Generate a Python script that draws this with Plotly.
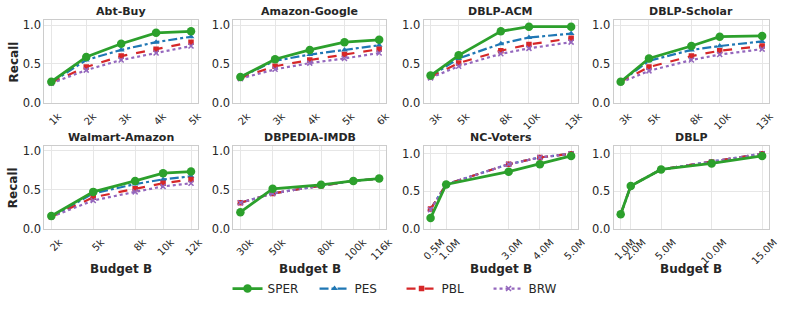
import plotly.graph_objects as go

# ---------------- data ----------------
titles = ["Abt-Buy", "Amazon-Google", "DBLP-ACM", "DBLP-Scholar",
          "Walmart-Amazon", "DBPEDIA-IMDB", "NC-Voters", "DBLP"]

budgets = [
    [1000, 2000, 3000, 4000, 5000],
    [2000, 3000, 4000, 5000, 6000],
    [3000, 5000, 8000, 10000, 13000],
    [3000, 5000, 8000, 10000, 13000],
    [2000, 5000, 8000, 10000, 12000],
    [30000, 50000, 80000, 100000, 116000],
    [500000, 1000000, 3000000, 4000000, 5000000],
    [1000000, 2000000, 5000000, 10000000, 15000000],
]
tick_labels = [
    ["1k", "2k", "3k", "4k", "5k"],
    ["2k", "3k", "4k", "5k", "6k"],
    ["3k", "5k", "8k", "10k", "13k"],
    ["3k", "5k", "8k", "10k", "13k"],
    ["2k", "5k", "8k", "10k", "12k"],
    ["30k", "50k", "80k", "100k", "116k"],
    ["0.5M", "1.0M", "3.0M", "4.0M", "5.0M"],
    ["1.0M", "2.0M", "5.0M", "10.0M", "15.0M"],
]

sper = [
    [0.27, 0.59, 0.76, 0.90, 0.92],
    [0.33, 0.56, 0.68, 0.78, 0.81],
    [0.35, 0.61, 0.92, 0.98, 0.98],
    [0.27, 0.57, 0.73, 0.85, 0.86],
    [0.16, 0.47, 0.61, 0.71, 0.73],
    [0.21, 0.51, 0.56, 0.61, 0.64],
    [0.14, 0.59, 0.76, 0.86, 0.97],
    [0.19, 0.57, 0.79, 0.87, 0.97],
]
pes = [
    [0.26, 0.55, 0.68, 0.78, 0.85],
    [0.33, 0.54, 0.62, 0.68, 0.74],
    [0.34, 0.57, 0.76, 0.84, 0.89],
    [0.27, 0.54, 0.68, 0.73, 0.79],
    [0.15, 0.45, 0.57, 0.63, 0.67],
    [0.33, 0.45, 0.55, 0.61, 0.64],
    [0.26, 0.59, 0.86, 0.95, 1.00],
    [0.19, 0.57, 0.79, 0.89, 1.00],
]
pbl = [
    [0.26, 0.46, 0.60, 0.69, 0.78],
    [0.32, 0.47, 0.55, 0.62, 0.69],
    [0.33, 0.51, 0.67, 0.75, 0.83],
    [0.27, 0.46, 0.60, 0.67, 0.73],
    [0.15, 0.40, 0.51, 0.58, 0.63],
    [0.33, 0.45, 0.55, 0.61, 0.64],
    [0.26, 0.59, 0.86, 0.95, 1.00],
    [0.19, 0.57, 0.79, 0.89, 1.00],
]
brw = [
    [0.25, 0.42, 0.55, 0.64, 0.73],
    [0.31, 0.43, 0.51, 0.57, 0.64],
    [0.32, 0.47, 0.63, 0.70, 0.78],
    [0.26, 0.41, 0.55, 0.62, 0.69],
    [0.15, 0.36, 0.47, 0.54, 0.58],
    [0.33, 0.45, 0.55, 0.61, 0.64],
    [0.25, 0.59, 0.86, 0.95, 1.00],
    [0.19, 0.57, 0.79, 0.89, 1.00],
]
y_tops = [1.06, 1.06, 1.06, 1.06, 1.055, 1.055, 1.1, 1.1]

series = [
    # name, data, color, dash, symbol, width, msize, rank
    ("PES", pes, "#1f77b4", "dashdot", "triangle-up", 2.2, 6, 2),
    ("PBL", pbl, "#d62728", "dash", "square", 2.2, 5.5, 3),
    ("BRW", brw, "#9467bd", "dot", "x-thin-open", 2.2, 5, 4),
    ("SPER", sper, "#2ca02c", "solid", "circle", 2.8, 8.5, 1),
]

W, H = 793, 312
cols = [(43, 199), (235, 390), (428, 585), (621, 779)]   # px
rows = [(18, 103), (148, 233)]                            # px


def px(v):
    return v / W


def py(v):
    return 1 - v / H


font_family = "DejaVu Sans"
txt = "#262626"
xtick_size = 10
char_em = {"k": 0.579, "M": 0.863, ".": 0.318}


def label_half_width(lbl):
    # approximate half of the horizontal extent of a 45-degree rotated label
    L = sum(char_em.get(ch, 0.636) for ch in lbl) * xtick_size
    return (L + 0.73 * xtick_size) * 0.707 / 2


fig = go.Figure()
annotations = []
layout = {}

for i in range(8):
    r, c = divmod(i, 4)
    ax = "" if i == 0 else str(i + 1)
    xd = [px(cols[c][0]), px(cols[c][1])]
    yd = [py(rows[r][1]), py(rows[r][0])]
    xs = budgets[i]
    span = xs[-1] - xs[0]
    shift = sum(label_half_width(t) for t in tick_labels[i]) / len(tick_labels[i])
    layout["xaxis" + ax] = dict(
        domain=xd, anchor="y" + ax, range=[xs[0] - 0.05 * span, xs[-1] + 0.05 * span],
        tickmode="array", tickvals=xs, ticktext=tick_labels[i], tickangle=-45,
        ticklabelshift=round(shift), ticklabelstandoff=3,
        showgrid=True, gridcolor="#e6e6e6", gridwidth=1, zeroline=False,
        showline=True, linecolor="#cccccc", linewidth=1, mirror=True,
        ticks="", tickfont=dict(size=xtick_size, color=txt, family=font_family),
    )
    layout["yaxis" + ax] = dict(
        domain=yd, anchor="x" + ax, range=[0, y_tops[i]],
        tickmode="array", tickvals=[0, 0.5, 1.0], ticktext=["0.0", "0.5", "1.0"],
        showgrid=True, gridcolor="#e6e6e6", gridwidth=1, zeroline=False,
        showline=True, linecolor="#cccccc", linewidth=1, mirror=True,
        ticks="", tickfont=dict(size=11.5, color=txt, family=font_family),
    )
    for name, data, color, dash, sym, lw, ms, rank in series:
        fig.add_trace(go.Scatter(
            x=xs, y=data[i], mode="lines+markers", name=name,
            line=dict(color=color, dash=dash, width=lw),
            marker=dict(symbol=sym, size=ms, color=color,
                        line=dict(color=color, width=1.5 if sym.startswith("x") else 0)),
            xaxis="x" + ax, yaxis="y" + ax,
            showlegend=(i == 0), legendrank=rank,
        ))
    annotations.append(dict(
        text="<b>%s</b>" % titles[i], x=(xd[0] + xd[1]) / 2, y=py(rows[r][0] - 9),
        xref="paper", yref="paper", showarrow=False, xanchor="center", yanchor="middle",
        font=dict(size=11, color=txt, family=font_family),
    ))
    if r == 1:
        annotations.append(dict(
            text="<b>Budget B</b>", x=(xd[0] + xd[1]) / 2, y=py(275),
            xref="paper", yref="paper", showarrow=False, xanchor="center", yanchor="middle",
            font=dict(size=12, color=txt, family=font_family),
        ))
    if c == 0:
        annotations.append(dict(
            text="<b>Recall</b>", x=px(12), y=py((rows[r][0] + rows[r][1]) / 2),
            xref="paper", yref="paper", showarrow=False, xanchor="center", yanchor="middle",
            textangle=-90, font=dict(size=12, color=txt, family=font_family),
        ))

fig.update_layout(
    width=W, height=H, margin=dict(l=0, r=0, t=0, b=0),
    paper_bgcolor="white", plot_bgcolor="white",
    font=dict(family=font_family, color=txt),
    annotations=annotations,
    legend=dict(orientation="h", x=px(229), xanchor="left", y=py(295), yanchor="middle",
                font=dict(size=12, color=txt, family=font_family),
                entrywidth=42, entrywidthmode="pixels", itemwidth=30,
                bgcolor="rgba(0,0,0,0)"),
    **layout,
)

# remove the browser's default 8px body margin so the figure sits at the page origin
fig.write_html("out.html", config={"displayModeBar": False},
               post_script="document.body.style.margin='0px';document.body.style.overflow='hidden';")
